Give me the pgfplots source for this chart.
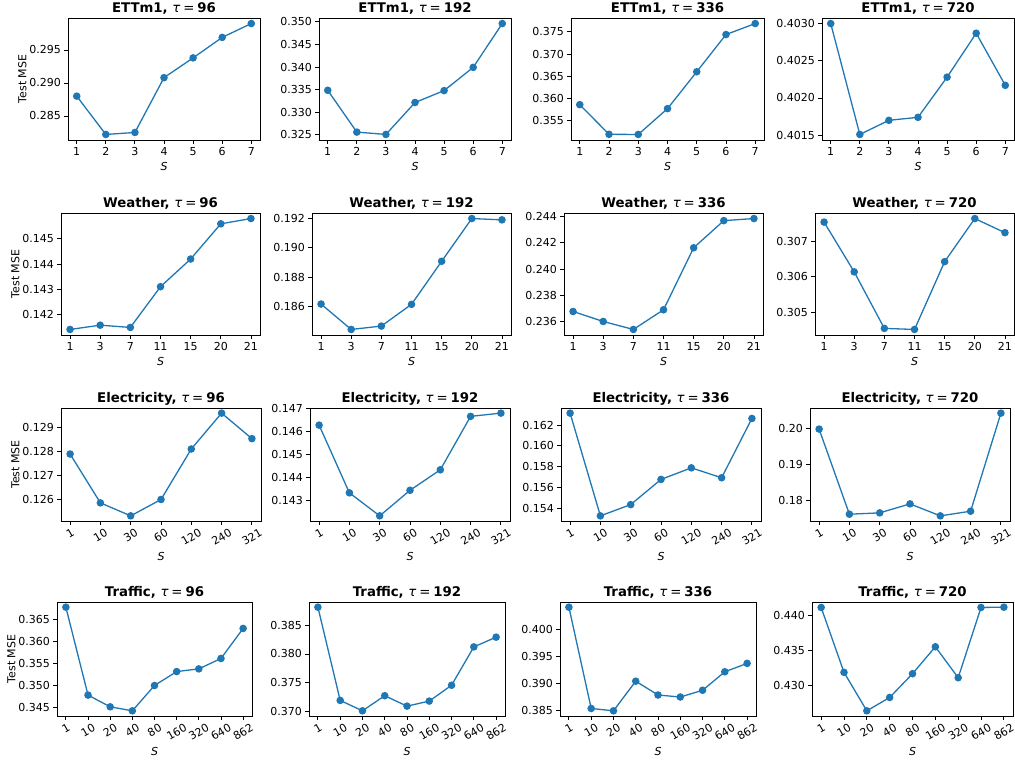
\documentclass[border=0pt]{standalone}
\usepackage{fontspec}
\setmainfont{DejaVu Sans}
\usepackage{graphicx}
\usepackage{pgfplots}
\pgfplotsset{compat=1.18}
\definecolor{c1}{HTML}{1F77B4}
\newcommand{\tk}{\fontsize{11}{13}\selectfont}
\newcommand{\ttl}[2]{#1, {\mdseries\itshape τ}\hspace{0.22em}{\mdseries =}\hspace{0.22em}#2}
\newcommand{\rb}[1]{\makebox[0.7\width]{\rotatebox{30}{#1}}}
\pgfplotsset{
  pan/.style n args={4}{at={(#1pt,#2pt)}, anchor=south west, width=#3pt, height=#4pt},
  ser/.style={draw=c1, line width=1.3pt, mark=*, mark size=3.1pt, mark options={solid, fill=c1, draw=c1}},
  base/.style={
    scale only axis,
    axis line style={line width=0.84pt, black},
    every tick/.style={line width=0.84pt, black},
    tick align=outside, major tick length=3.7pt,
    xtick pos=bottom, ytick pos=left,
    enlarge x limits=0.05, enlarge y limits=0.05,
    xtick=data,
    ticklabel style={font=\tk},
    /pgf/number format/assume math mode=true,
    yticklabel style={/pgf/number format/.cd, fixed, fixed zerofill, precision=3},
    title style={font=\bfseries\fontsize{13.3}{15}\selectfont, anchor=base, yshift=-0.5pt},
    xlabel={\textit{S}}, label style={font=\tk},
    ylabel shift=-4pt,
  },
  ett/.style={base, xticklabels={1,2,3,4,5,6,7}},
  wea/.style={base, xticklabels={1,3,7,11,15,20,21}},
  ele/.style={base, xticklabels={\rb{1},\rb{10},\rb{30},\rb{60},\rb{120},\rb{240},\rb{321}}},
  tra/.style={base, xticklabels={\rb{1},\rb{10},\rb{20},\rb{40},\rb{80},\rb{160},\rb{320},\rb{640},\rb{862}}},
}
\begin{document}
\begin{tikzpicture}
\path[use as bounding box] (0,0) rectangle (1015pt,761pt);
% Row 1: ETTm1
\begin{axis}[ett, pan={68}{621}{192}{122}, title={\ttl{ETTm1}{96}}, ylabel={Test MSE},
  ytick={0.285,0.290,0.295}]
\addplot[ser] coordinates {(0,0.2880)(1,0.2822)(2,0.2825)(3,0.2908)(4,0.2938)(5,0.2969)(6,0.2990)};
\end{axis}
\begin{axis}[ett, pan={319}{621}{192}{122}, title={\ttl{ETTm1}{192}},
  ytick={0.325,0.330,0.335,0.340,0.345,0.350}]
\addplot[ser] coordinates {(0,0.33485)(1,0.32559)(2,0.32507)(3,0.33214)(4,0.33478)(5,0.33993)(6,0.34963)};
\end{axis}
\begin{axis}[ett, pan={571}{621}{193}{122}, title={\ttl{ETTm1}{336}},
  ytick={0.355,0.360,0.365,0.370,0.375}]
\addplot[ser] coordinates {(0,0.35854)(1,0.35183)(2,0.35180)(3,0.35764)(4,0.36598)(5,0.37440)(6,0.37689)};
\end{axis}
\begin{axis}[ett, pan={822}{621}{192}{122}, title={\ttl{ETTm1}{720}},
  ytick={0.4015,0.4020,0.4025,0.4030},
  yticklabel style={/pgf/number format/precision=4}]
\addplot[ser] coordinates {(0,0.40300)(1,0.40151)(2,0.40170)(3,0.40174)(4,0.40228)(5,0.40287)(6,0.40217)};
\end{axis}
% Row 2: Weather
\begin{axis}[wea, pan={61}{426}{199}{122}, title={\ttl{Weather}{96}}, ylabel={Test MSE},
  ytick={0.142,0.143,0.144,0.145}]
\addplot[ser] coordinates {(0,0.14140)(1,0.14157)(2,0.14148)(3,0.14310)(4,0.14420)(5,0.14560)(6,0.14581)};
\end{axis}
\begin{axis}[wea, pan={312}{426}{199}{122}, title={\ttl{Weather}{192}},
  ytick={0.186,0.188,0.190,0.192}]
\addplot[ser] coordinates {(0,0.18618)(1,0.18445)(2,0.18468)(3,0.18616)(4,0.18909)(5,0.19200)(6,0.19191)};
\end{axis}
\begin{axis}[wea, pan={564}{426}{199}{122}, title={\ttl{Weather}{336}},
  ytick={0.236,0.238,0.240,0.242,0.244}]
\addplot[ser] coordinates {(0,0.23676)(1,0.23600)(2,0.23539)(3,0.23689)(4,0.24162)(5,0.24369)(6,0.24385)};
\end{axis}
\begin{axis}[wea, pan={815}{426}{199}{122}, title={\ttl{Weather}{720}},
  ytick={0.305,0.306,0.307}]
\addplot[ser] coordinates {(0,0.30755)(1,0.30614)(2,0.30454)(3,0.30451)(4,0.30643)(5,0.30765)(6,0.30725)};
\end{axis}
% Row 3: Electricity
\begin{axis}[ele, pan={61}{240}{200}{113}, title={\ttl{Electricity}{96}}, ylabel={Test MSE},
  ytick={0.126,0.127,0.128,0.129}]
\addplot[ser] coordinates {(0,0.12789)(1,0.12586)(2,0.12532)(3,0.12600)(4,0.12810)(5,0.12959)(6,0.12853)};
\end{axis}
\begin{axis}[ele, pan={310}{240}{200}{113}, title={\ttl{Electricity}{192}},
  ytick={0.143,0.144,0.145,0.146,0.147}]
\addplot[ser] coordinates {(0,0.14629)(1,0.14335)(2,0.14235)(3,0.14346)(4,0.14435)(5,0.14667)(6,0.14681)};
\end{axis}
\begin{axis}[ele, pan={561}{240}{200}{113}, title={\ttl{Electricity}{336}},
  ytick={0.154,0.156,0.158,0.160,0.162}]
\addplot[ser] coordinates {(0,0.16314)(1,0.15330)(2,0.15438)(3,0.15679)(4,0.15790)(5,0.15695)(6,0.16263)};
\end{axis}
\begin{axis}[ele, pan={810}{240}{200}{113}, title={\ttl{Electricity}{720}},
  ytick={0.18,0.19,0.20},
  yticklabel style={/pgf/number format/precision=2}]
\addplot[ser] coordinates {(0,0.19982)(1,0.17622)(2,0.17659)(3,0.17908)(4,0.17576)(5,0.17705)(6,0.20424)};
\end{axis}
% Row 4: Traffic
\begin{axis}[tra, pan={57}{45}{195}{114}, title={\ttl{Traffic}{96}}, ylabel={Test MSE},
  ytick={0.345,0.350,0.355,0.360,0.365}]
\addplot[ser] coordinates {(0,0.36782)(1,0.34782)(2,0.34515)(3,0.34424)(4,0.35000)(5,0.35317)(6,0.35378)(7,0.35615)(8,0.36298)};
\end{axis}
\begin{axis}[tra, pan={309}{45}{196}{114}, title={\ttl{Traffic}{192}},
  ytick={0.370,0.375,0.380,0.385}]
\addplot[ser] coordinates {(0,0.38817)(1,0.37188)(2,0.37006)(3,0.37270)(4,0.37088)(5,0.37176)(6,0.37453)(7,0.38123)(8,0.38293)};
\end{axis}
\begin{axis}[tra, pan={560}{45}{196}{114}, title={\ttl{Traffic}{336}},
  ytick={0.385,0.390,0.395,0.400}]
\addplot[ser] coordinates {(0,0.40401)(1,0.38543)(2,0.38500)(3,0.39043)(4,0.38790)(5,0.38753)(6,0.38877)(7,0.39216)(8,0.39370)};
\end{axis}
\begin{axis}[tra, pan={812}{45}{201}{114}, title={\ttl{Traffic}{720}},
  ytick={0.430,0.435,0.440}]
\addplot[ser] coordinates {(0,0.44121)(1,0.43184)(2,0.42628)(3,0.42821)(4,0.43164)(5,0.43553)(6,0.43106)(7,0.44121)(8,0.44125)};
\end{axis}
\end{tikzpicture}
\end{document}
